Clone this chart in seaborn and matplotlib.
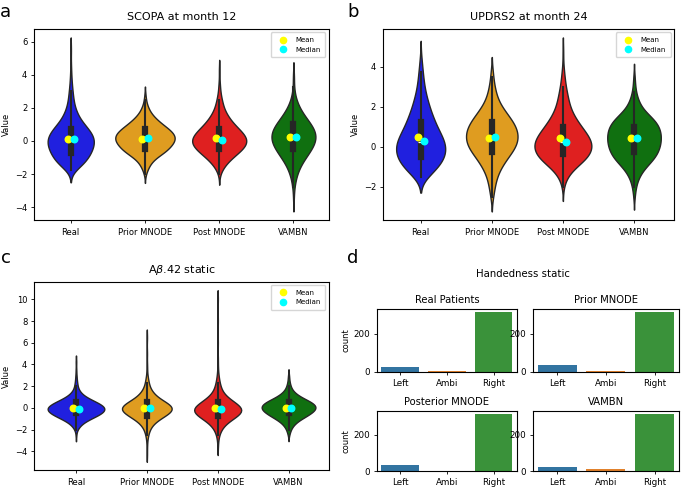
import numpy as np
import pandas as pd
import matplotlib.pyplot as plt
import seaborn as sns
from matplotlib.lines import Line2D

groups = ["Real", "Prior MNODE", "Post MNODE", "VAMBN"]
violin_colors = ["blue", "orange", "red", "green"]

# SCOPA at month 12 (value -> number of patients)
scopa_real = {-1.75: 4, -1.5: 14, -1.25: 18, -1.0: 21, -0.75: 24, -0.5: 26, -0.25: 28,
              0.0: 29, 0.25: 28, 0.5: 25, 0.75: 21, 1.0: 16, 1.25: 12, 1.5: 9, 1.75: 7,
              2.0: 5, 2.25: 4, 2.5: 3, 2.75: 3, 3.0: 2, 3.25: 2, 3.5: 1, 3.75: 1,
              4.0: 1, 4.5: 1, 5.5: 1}
scopa_prior = {-2.0: 1, -1.75: 3, -1.5: 5, -1.25: 8, -1.0: 13, -0.75: 22, -0.5: 28,
               -0.25: 32, 0.0: 36, 0.25: 37, 0.5: 34, 0.75: 28, 1.0: 21, 1.25: 15,
               1.5: 10, 1.75: 6, 2.0: 4, 2.25: 2, 2.5: 1, 2.75: 1}
scopa_post = {-2.0: 1, -1.75: 3, -1.5: 6, -1.25: 10, -1.0: 15, -0.75: 21, -0.5: 27,
              -0.25: 31, 0.0: 33, 0.25: 31, 0.5: 27, 0.75: 22, 1.0: 17, 1.25: 13,
              1.5: 10, 1.75: 7, 2.0: 5, 2.25: 4, 2.5: 3, 2.75: 2, 3.0: 1, 3.25: 1,
              3.5: 1, 4.25: 1}
scopa_vambn = {-3.5: 1, -3.0: 1, -2.75: 1, -2.5: 2, -2.25: 3, -2.0: 4, -1.75: 6,
               -1.5: 8, -1.25: 11, -1.0: 14, -0.75: 18, -0.5: 21, -0.25: 24, 0.0: 26,
               0.25: 27, 0.5: 26, 0.75: 24, 1.0: 21, 1.25: 17, 1.5: 13, 1.75: 10,
               2.0: 7, 2.25: 5, 2.5: 3, 2.75: 2, 3.0: 1, 3.25: 1, 3.75: 1, 4.0: 1}
scopa_mean = [0.14, 0.14, 0.18, 0.22]
scopa_median = [0.10, 0.20, 0.04, 0.22]

# UPDRS2 at month 24
updrs_real = {-1.5: 8, -1.25: 14, -1.0: 19, -0.75: 23, -0.5: 26, -0.25: 27, 0.0: 27,
              0.25: 26, 0.5: 23, 0.75: 20, 1.0: 17, 1.25: 15, 1.5: 13, 1.75: 11,
              2.0: 9, 2.25: 8, 2.5: 6, 2.75: 5, 3.0: 4, 3.25: 3, 3.5: 3, 3.75: 2,
              4.0: 2, 4.25: 1, 4.5: 1}
updrs_prior = {-2.5: 2, -2.25: 2, -2.0: 3, -1.75: 4, -1.5: 5, -1.25: 7, -1.0: 10,
               -0.75: 13, -0.5: 17, -0.25: 21, 0.0: 25, 0.25: 27, 0.5: 27, 0.75: 27,
               1.0: 25, 1.25: 22, 1.5: 18, 1.75: 14, 2.0: 10, 2.25: 7, 2.5: 5,
               2.75: 4, 3.0: 3, 3.25: 2, 3.5: 1, 3.75: 2}
updrs_post = {-2.0: 1, -1.75: 2, -1.5: 4, -1.25: 8, -1.0: 13, -0.75: 21, -0.5: 27,
              -0.25: 29, 0.0: 31, 0.25: 30, 0.5: 27, 0.75: 23, 1.0: 19, 1.25: 15,
              1.5: 12, 1.75: 9, 2.0: 7, 2.25: 6, 2.5: 5, 2.75: 4, 3.0: 3, 3.25: 2,
              3.5: 2, 3.75: 1, 4.0: 1, 4.75: 1}
updrs_vambn = {-2.5: 1, -2.25: 1, -2.0: 2, -1.75: 3, -1.5: 5, -1.25: 8, -1.0: 12,
               -0.75: 18, -0.5: 23, -0.25: 25, 0.0: 27, 0.25: 28, 0.5: 28, 0.75: 28,
               1.0: 26, 1.25: 24, 1.5: 18, 1.75: 11, 2.0: 7, 2.25: 5, 2.5: 3,
               2.75: 2, 3.0: 1, 3.25: 1, 3.5: 1}
updrs_mean = [0.49, 0.46, 0.42, 0.46]
updrs_median = [0.30, 0.47, 0.24, 0.46]

# Abeta 42 static
abeta_real = {-2.5: 1, -2.0: 2, -1.75: 4, -1.5: 7, -1.25: 12, -1.0: 19, -0.75: 27,
              -0.5: 34, -0.25: 38, 0.0: 39, 0.25: 35, 0.5: 28, 0.75: 20, 1.0: 13,
              1.25: 8, 1.5: 5, 1.75: 3, 2.0: 2, 2.25: 2, 2.5: 1, 2.75: 1, 3.0: 1,
              3.5: 1, 4.25: 1}
abeta_prior = {-4.25: 1, -3.5: 1, -3.0: 1, -2.75: 1, -2.5: 2, -2.25: 3, -2.0: 4,
               -1.75: 6, -1.5: 9, -1.25: 13, -1.0: 19, -0.75: 26, -0.5: 33,
               -0.25: 38, 0.0: 40, 0.25: 36, 0.5: 29, 0.75: 21, 1.0: 15, 1.25: 11,
               1.5: 8, 1.75: 5, 2.0: 4, 2.25: 3, 2.5: 2, 2.75: 2, 3.0: 1, 3.5: 1,
               4.0: 1, 5.0: 1, 6.5: 1}
abeta_post = {-3.5: 1, -3.0: 1, -2.75: 1, -2.5: 2, -2.25: 3, -2.0: 5, -1.75: 7,
              -1.5: 10, -1.25: 15, -1.0: 21, -0.75: 28, -0.5: 34, -0.25: 37, 0.0: 36,
              0.25: 31, 0.5: 24, 0.75: 18, 1.0: 13, 1.25: 9, 1.5: 6, 1.75: 5,
              2.0: 4, 2.25: 3, 2.5: 2, 2.75: 2, 3.0: 1, 3.25: 1, 3.75: 1, 4.5: 1,
              6.0: 1, 8.0: 1, 10.0: 1}
abeta_vambn = {-2.5: 1, -2.25: 2, -2.0: 3, -1.75: 5, -1.5: 8, -1.25: 12, -1.0: 18,
               -0.75: 25, -0.5: 31, -0.25: 36, 0.0: 39, 0.25: 38, 0.5: 33, 0.75: 25,
               1.0: 17, 1.25: 11, 1.5: 7, 1.75: 4, 2.0: 3, 2.25: 2, 2.5: 1, 2.75: 1,
               3.0: 1}
abeta_mean = [0.0, 0.0, 0.0, 0.0]
abeta_median = [-0.06, -0.03, -0.12, 0.0]

# Handedness counts
hand_labels = ["Left", "Ambi", "Right"]
hand_titles = ["Real Patients", "Prior MNODE", "Posterior MNODE", "VAMBN"]
hand_real = [26, 7, 313]
hand_prior = [38, 6, 312]
hand_post = [35, 0, 314]
hand_vambn = [23, 13, 314]
hand_colors = ["tab:blue", "tab:orange", "tab:green"]


def long_table(tables):
    parts = []
    for g, t in zip(groups, tables):
        vals = np.repeat(list(t.keys()), list(t.values()))
        parts.append(pd.DataFrame({"group": g, "value": vals}))
    return pd.concat(parts, ignore_index=True)


def violin_panel(ax, tables, means, medians, title):
    df = long_table(tables)
    sns.violinplot(data=df, x="group", y="value", hue="group", order=groups,
                   hue_order=groups, palette=violin_colors, legend=False,
                   common_norm=True, linewidth=1, ax=ax)
    pos = np.arange(len(groups))
    ax.scatter(pos - 0.04, means, color="yellow", s=22, zorder=5)
    ax.scatter(pos + 0.04, medians, color="cyan", s=22, zorder=6)
    handles = [Line2D([], [], marker="o", ls="", color="yellow", markersize=4.5),
               Line2D([], [], marker="o", ls="", color="cyan", markersize=4.5)]
    ax.legend(handles, ["Mean", "Median"], loc="upper right", fontsize=5,
              handletextpad=0.8, borderpad=0.7)
    ax.set_title(title, fontsize=8)
    ax.set_xlabel("")
    ax.set_ylabel("Value", fontsize=6, labelpad=3)
    ax.tick_params(labelsize=6, length=2.5, width=0.6, pad=2.5)
    ax.tick_params(axis="x", pad=3)


fig = plt.figure(figsize=(6.85, 4.88), dpi=100)

ax_a = fig.add_axes([0.050, 0.549, 0.430, 0.392])
violin_panel(ax_a, [scopa_real, scopa_prior, scopa_post, scopa_vambn],
             scopa_mean, scopa_median, "SCOPA at month 12")

ax_b = fig.add_axes([0.559, 0.549, 0.425, 0.392])
violin_panel(ax_b, [updrs_real, updrs_prior, updrs_post, updrs_vambn],
             updrs_mean, updrs_median, "UPDRS2 at month 24")

ax_c = fig.add_axes([0.050, 0.036, 0.430, 0.387])
violin_panel(ax_c, [abeta_real, abeta_prior, abeta_post, abeta_vambn],
             abeta_mean, abeta_median, r"A$\beta$.42 static")

hand_boxes = [[0.550, 0.238, 0.205, 0.129], [0.778, 0.238, 0.213, 0.129],
              [0.550, 0.034, 0.205, 0.124], [0.778, 0.034, 0.213, 0.124]]
for box, title, counts, i in zip(hand_boxes, hand_titles,
                                 [hand_real, hand_prior, hand_post, hand_vambn],
                                 range(4)):
    ax = fig.add_axes(box)
    sns.barplot(x=hand_labels, y=counts, hue=hand_labels, palette=hand_colors,
                legend=False, errorbar=None, ax=ax)
    ax.set_title(title, fontsize=7.2, pad=4)
    ax.set_ylim(0, 330)
    ax.set_yticks([0, 200])
    ax.tick_params(labelsize=6.3, length=2.5, width=0.6, pad=2.5)
    ax.set_ylabel("count" if i % 2 == 0 else "", fontsize=6, labelpad=2)

fig.text(523 / 685, 1 - 277 / 488, "Handedness static", ha="center",
         va="baseline", fontsize=7.3)

for letter, x, y in [("a", 0, 17), ("b", 347, 17), ("c", 1, 263), ("d", 347, 263)]:
    fig.text(x / 685, 1 - y / 488, letter, fontsize=13, va="baseline")

fig.savefig("out.png", dpi=100)
